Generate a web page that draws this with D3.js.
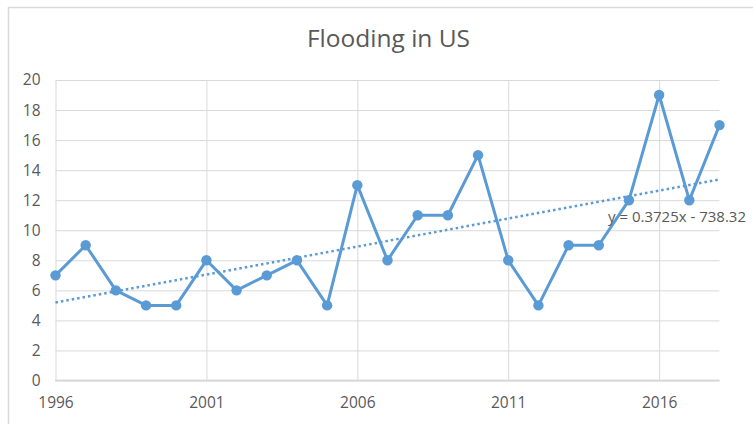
<!DOCTYPE html>
<html>
<head>
<meta charset="utf-8">
<script src="https://cdn.jsdelivr.net/npm/d3@7"></script>
<style>
  html, body { margin: 0; padding: 0; background: #fff; }
  svg { display: block; }
</style>
</head>
<body>
<svg id="chart" width="753" height="424"></svg>
<script>
const years = [1996,1997,1998,1999,2000,2001,2002,2003,2004,2005,2006,2007,2008,2009,2010,2011,2012,2013,2014,2015,2016,2017,2018];
const floods = [7,9,6,5,5,8,6,7,8,5,13,8,11,11,15,8,5,9,9,12,19,12,17];
const xTicks = [1996,2001,2006,2011,2016];
const yTicks = [0,2,4,6,8,10,12,14,16,18,20];
const trendSlope = 0.3725;
const trendIntercept = -738.32;
const trendLabel = "y = 0.3725x - 738.32";
const title = "Flooding in US";

const svg = d3.select("#chart");
const W = 753, H = 424;
const plot = {left: 55.5, right: 719.5, top: 80, bottom: 380.5};

const x = d3.scaleLinear().domain([1996, 2018]).range([plot.left, plot.right]);
const y = d3.scaleLinear().domain([0, 20]).range([plot.bottom, plot.top]);

const textColor = "#595959";
const gridColor = "#d9d9d9";
const blue = "#5b9bd5";
const font = "'Open Sans', 'Liberation Sans', sans-serif";

svg.append("rect").attr("width", W).attr("height", H).attr("fill", "#fff");
// outer chart frame
svg.append("rect").attr("x", 8.5).attr("y", 7.5).attr("width", 800).attr("height", 500)
  .attr("fill", "none").attr("stroke", gridColor).attr("stroke-width", 1.5);

// title
svg.append("text").attr("x", 388.5).attr("y", 47).attr("text-anchor", "middle")
  .attr("font-family", font).attr("font-size", 24.5).attr("fill", textColor).text(title);

// horizontal gridlines
const yAxis = d3.axisLeft(y).tickValues(yTicks).tickSize(-(plot.right - plot.left)).tickPadding(15).tickFormat(d3.format("d"));
const gy = svg.append("g").attr("transform", `translate(${plot.left},0)`).call(yAxis);
gy.select(".domain").remove();
gy.selectAll(".tick line").attr("stroke", gridColor).attr("stroke-width", 1);
gy.selectAll(".tick text").attr("font-family", font).attr("font-size", 15.5).attr("fill", textColor);

// vertical gridlines + x labels
const xAxis = d3.axisBottom(x).tickValues(xTicks).tickSize(-(plot.bottom - plot.top)).tickPadding(16).tickFormat(d3.format("d"));
const gx = svg.append("g").attr("transform", `translate(0,${plot.bottom})`).call(xAxis);
gx.select(".domain").remove();
gx.selectAll(".tick line").attr("stroke", gridColor).attr("stroke-width", 1);
gx.selectAll(".tick text").attr("font-family", font).attr("font-size", 15.5).attr("fill", textColor);

// bottom axis line
svg.append("line").attr("x1", plot.left - 0.5).attr("x2", plot.right).attr("y1", plot.bottom).attr("y2", plot.bottom)
  .attr("stroke", gridColor).attr("stroke-width", 2);

// trendline
svg.append("line")
  .attr("x1", x(1996)).attr("y1", y(trendSlope * 1996 + trendIntercept))
  .attr("x2", x(2018)).attr("y2", y(trendSlope * 2018 + trendIntercept))
  .attr("stroke", blue).attr("stroke-width", 2.5).attr("stroke-dasharray", "2.5 3");

// data line
const data = years.map((yr, i) => ({yr, v: floods[i]}));
svg.append("path").datum(data)
  .attr("d", d3.line().x(d => x(d.yr)).y(d => y(d.v)))
  .attr("fill", "none").attr("stroke", blue).attr("stroke-width", 3).attr("stroke-linejoin", "round");
svg.append("g").selectAll("circle").data(data).join("circle")
  .attr("cx", d => x(d.yr)).attr("cy", d => y(d.v)).attr("r", 5.2).attr("fill", blue);

// trend label
svg.append("text").attr("x", 608).attr("y", 221.5)
  .attr("font-family", font).attr("font-size", 15).attr("fill", textColor).text(trendLabel);
</script>
</body>
</html>
